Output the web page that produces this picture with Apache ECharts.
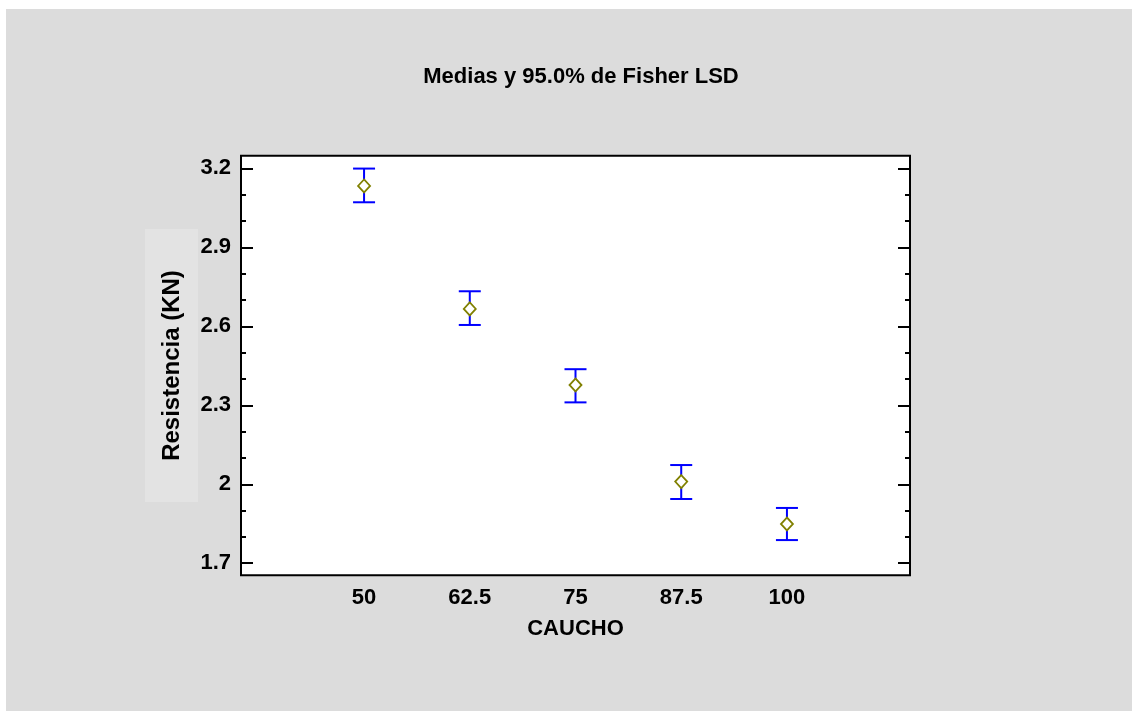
<!DOCTYPE html>
<html>
<head>
<meta charset="utf-8">
<script src="https://cdn.jsdelivr.net/npm/echarts@6/dist/echarts.min.js"></script>
<style>
html,body{margin:0;padding:0;background:#ffffff;}
#chart{width:1132px;height:711px;}
</style>
</head>
<body>
<div id="chart"></div>
<script>
// ---- data ----
var caucho = [50, 62.5, 75, 87.5, 100];
var media = [3.133, 2.666, 2.377, 2.010, 1.849];
var lower = [3.071, 2.605, 2.311, 1.944, 1.788];
var upper = [3.199, 2.733, 2.437, 2.073, 1.910];
var yMajorTicks = [1.7, 2.0, 2.3, 2.6, 2.9, 3.2];
var yMinorTicks = [1.7, 1.8, 1.9, 2.0, 2.1, 2.2, 2.3, 2.4, 2.5, 2.6, 2.7, 2.8, 2.9, 3.0, 3.1, 3.2];
var xTickLabels = [50, 62.5, 75, 87.5, 100];

var FONT = '"Liberation Sans", Arial, sans-serif';
var Y_MIN = 1.6542, Y_MAX = 3.2479;
var X_MIN = 35.45, X_MAX = 114.55;

function fmt(v){ return String(+(+v).toFixed(1)); }

function yAxisDef(pos, ticks, len, withLabel, name){
  return {
    type: 'value', position: pos, min: Y_MIN, max: Y_MAX,
    axisLine: {show: false},
    splitLine: {show: false},
    axisTick: {show: true, inside: true, length: len, customValues: ticks,
               lineStyle: {color: '#000', width: 2}},
    axisLabel: withLabel ? {show: true, customValues: ticks, formatter: fmt,
               color: '#000', fontWeight: 'bold', fontSize: 22, fontFamily: FONT, margin: 10}
             : {show: false},
    name: name || '',
    nameLocation: 'middle', nameGap: 57, nameRotate: 90,
    nameTextStyle: {color: '#000', fontWeight: 'bold', fontSize: 24, fontFamily: FONT}
  };
}

var chart = echarts.init(document.getElementById('chart'), null, {renderer: 'canvas'});

var errData = caucho.map(function(c, i){ return [c, lower[i], upper[i]]; });
var meanData = caucho.map(function(c, i){ return [c, media[i]]; });

chart.setOption({
  backgroundColor: '#dcdcdc',
  animation: false,
  title: {
    text: 'Medias y 95.0% de Fisher LSD',
    left: 576, top: 61, textAlign: 'center',
    textStyle: {color: '#000', fontWeight: 'bold', fontSize: 22, fontFamily: FONT}
  },
  graphic: [
    {type: 'rect', z: -10, silent: true, shape: {x: 0, y: 0, width: 1132, height: 9}, style: {fill: '#ffffff'}},
    {type: 'rect', z: -10, silent: true, shape: {x: 0, y: 0, width: 6, height: 711}, style: {fill: '#ffffff'}},
    {type: 'rect', z: -10, silent: true, shape: {x: 145, y: 229, width: 53, height: 273}, style: {fill: '#e3e3e3'}}
  ],
  grid: {
    left: 241, top: 155.7, right: 222, bottom: 135.7,
    show: true, backgroundColor: '#ffffff', borderColor: '#000', borderWidth: 2
  },
  xAxis: {
    type: 'value', min: X_MIN, max: X_MAX,
    axisLine: {show: false}, splitLine: {show: false},
    axisTick: {show: false},
    axisLabel: {show: true, customValues: xTickLabels, color: '#000', fontWeight: 'bold',
                fontSize: 22, fontFamily: FONT, margin: 12},
    name: 'CAUCHO', nameLocation: 'middle', nameGap: 43,
    nameTextStyle: {color: '#000', fontWeight: 'bold', fontSize: 22, fontFamily: FONT}
  },
  yAxis: [
    yAxisDef('left', yMajorTicks, 12, true, 'Resistencia (KN)'),
    yAxisDef('left', yMinorTicks, 5, false),
    yAxisDef('right', yMajorTicks, 12, false),
    yAxisDef('right', yMinorTicks, 5, false)
  ],
  series: [
    {
      type: 'custom', yAxisIndex: 0, data: errData, z: 3,
      renderItem: function(params, api){
        var x = api.value(0);
        var lo = api.coord([x, api.value(1)]);
        var hi = api.coord([x, api.value(2)]);
        var hw = 11;
        var st = {stroke: '#0000ff', lineWidth: 2, fill: null};
        return {type: 'group', children: [
          {type: 'line', shape: {x1: lo[0], y1: lo[1], x2: hi[0], y2: hi[1]}, style: st},
          {type: 'line', shape: {x1: lo[0]-hw, y1: lo[1], x2: lo[0]+hw, y2: lo[1]}, style: st},
          {type: 'line', shape: {x1: hi[0]-hw, y1: hi[1], x2: hi[0]+hw, y2: hi[1]}, style: st}
        ]};
      }
    },
    {
      type: 'scatter', yAxisIndex: 0, data: meanData, z: 5,
      symbol: 'diamond', symbolSize: [12, 13],
      itemStyle: {color: '#ffffff', borderColor: '#808000', borderWidth: 1.8, opacity: 1}
    }
  ]
});
</script>
</body>
</html>
